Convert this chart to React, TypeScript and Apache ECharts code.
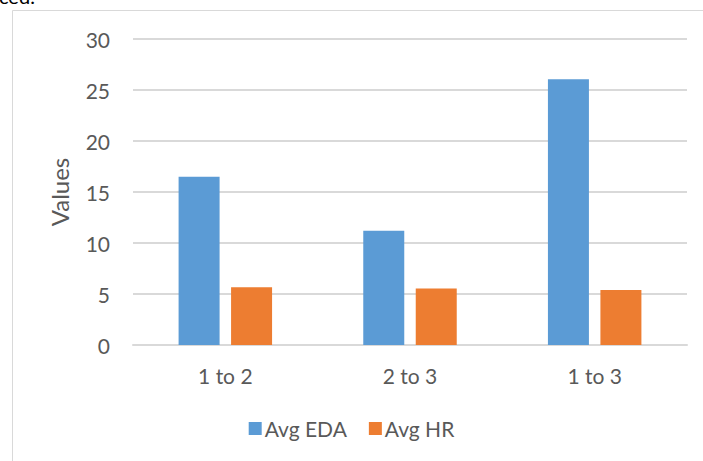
import React, { useEffect, useRef } from "react";
import * as echarts from "echarts";

const categories = ["1 to 2", "2 to 3", "1 to 3"];
const avgEDA = [16.5, 11.2, 26.05];
const avgHR = [5.65, 5.55, 5.4];
const seriesNames = ["Avg EDA", "Avg HR"];
const yTicks = { min: 0, max: 30, interval: 5 };

const FONT = "Lato, 'Open Sans', sans-serif";
const TEXT = "#595959";

export default function App() {
  const ref = useRef<HTMLDivElement>(null);
  useEffect(() => {
    if (!ref.current) return;
    const chart = echarts.init(ref.current, null, { renderer: "svg" });
    chart.setOption({
      animation: false,
      backgroundColor: "#ffffff",
      textStyle: { fontFamily: FONT },
      graphic: [
        {
          type: "rect",
          shape: { x: 12.5, y: 10.5, width: 760, height: 520 },
          style: { fill: "none", stroke: "#d9d9d9", lineWidth: 1 },
          silent: true,
        },
        {
          type: "text",
          left: -1,
          top: -14,
          style: { text: "ced.", fontSize: 20, fontFamily: FONT, fill: "#000000" },
          silent: true,
        },
      ],
      grid: { left: 133, right: 16, top: 39, bottom: 116, containLabel: false },
      legend: {
        data: seriesNames,
        bottom: 17,
        left: "center",
        itemWidth: 13,
        itemHeight: 13,
        itemGap: 22,
        icon: "rect",
        textStyle: { color: TEXT, fontSize: 21, fontFamily: FONT, padding: [0, 0, 0, -2] },
      },
      xAxis: {
        type: "category",
        data: categories,
        axisLine: { show: true, lineStyle: { color: "#d9d9d9", width: 2 } },
        axisTick: { show: false },
        axisLabel: { color: TEXT, fontSize: 21, fontFamily: FONT, margin: 20 },
      },
      yAxis: {
        type: "value",
        min: yTicks.min,
        max: yTicks.max,
        interval: yTicks.interval,
        name: "Values",
        nameLocation: "middle",
        nameGap: 62,
        nameRotate: 90,
        nameTextStyle: { color: TEXT, fontSize: 24, fontFamily: FONT },
        axisLine: { show: false },
        axisTick: { show: false },
        axisLabel: { color: TEXT, fontSize: 21, fontFamily: FONT, margin: 23 },
        splitLine: { lineStyle: { color: "#d9d9d9", width: 2 } },
      },
      series: [
        {
          name: seriesNames[0],
          type: "bar",
          data: avgEDA,
          barWidth: 41,
          barGap: "28%",
          itemStyle: { color: "#5b9bd5" },
        },
        {
          name: seriesNames[1],
          type: "bar",
          data: avgHR,
          barWidth: 41,
          itemStyle: { color: "#ed7d31" },
        },
      ],
    });
    return () => chart.dispose();
  }, []);
  return (
    <div
      ref={ref}
      style={{ position: "fixed", left: 0, top: 0, width: 703, height: 461 }}
    />
  );
}
